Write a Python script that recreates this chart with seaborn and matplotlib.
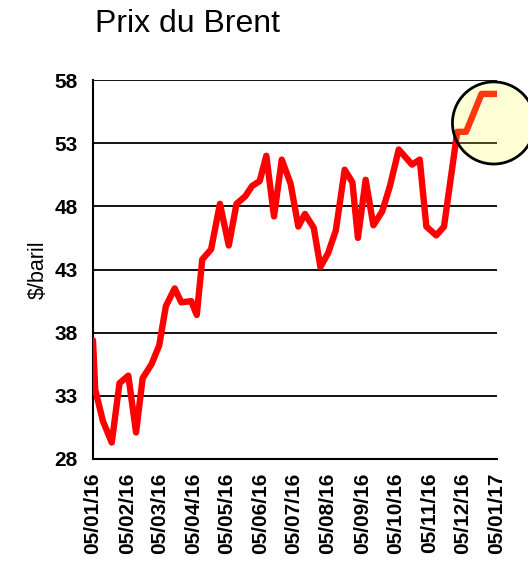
import pandas as pd
import numpy as np
import matplotlib
matplotlib.use("Agg")
import matplotlib.pyplot as plt
import matplotlib.dates as mdates
from matplotlib.patches import Ellipse
import seaborn as sns

# Brent price
dates = [
    "2016-01-05", "2016-01-07", "2016-01-14", "2016-01-22", "2016-01-29",
    "2016-02-06", "2016-02-13", "2016-02-19", "2016-02-27", "2016-03-05",
    "2016-03-11", "2016-03-19", "2016-03-25", "2016-04-03", "2016-04-08",
    "2016-04-13", "2016-04-21", "2016-04-29", "2016-05-07", "2016-05-14",
    "2016-05-22", "2016-05-28", "2016-06-04", "2016-06-10", "2016-06-17",
    "2016-06-24", "2016-07-02", "2016-07-09", "2016-07-15", "2016-07-23",
    "2016-07-29", "2016-08-05", "2016-08-12", "2016-08-20", "2016-08-27",
    "2016-09-01", "2016-09-08", "2016-09-15", "2016-09-23", "2016-09-30",
    "2016-10-08", "2016-10-20", "2016-10-27", "2016-11-02", "2016-11-11",
    "2016-11-18", "2016-11-30", "2016-12-08", "2016-12-22", "2017-01-05",
]
prices = [
    37.4, 33.5, 31.0, 29.3, 34.0,
    34.6, 30.1, 34.4, 35.5, 37.0,
    40.1, 41.5, 40.4, 40.5, 39.4,
    43.8, 44.6, 48.2, 44.9, 48.2,
    48.8, 49.6, 50.0, 52.0, 47.2,
    51.7, 49.8, 46.4, 47.4, 46.3,
    43.2, 44.3, 46.1, 50.9, 49.9,
    45.5, 50.1, 46.5, 47.6, 49.6,
    52.5, 51.3, 51.7, 46.4, 45.7,
    46.4, 53.9, 53.9, 56.9, 56.9,
]
y_ticks = [28, 33, 38, 43, 48, 53, 58]
x_start, x_end = "2016-01-05", "2017-01-05"
title = "Prix du Brent"
y_label = "$/baril"

# highlight circle (centre date, centre price, width in days, height in $)
circle_center = ("2017-01-02", 54.6)
circle_size = (74.7, 6.5)

df = pd.DataFrame({"date": pd.to_datetime(dates), "price": prices})

sns.set_theme(style="white")
plt.rcParams["font.family"] = ["Liberation Sans", "DejaVu Sans"]

fig = plt.figure(figsize=(5.28, 5.66), dpi=100)
ax = fig.add_axes([93 / 528, 1 - 459 / 566, 404 / 528, 379 / 566])

sns.lineplot(data=df, x="date", y="price", color="#FF0000", linewidth=4.6, ax=ax, zorder=3)

ax.set_xlim(pd.Timestamp(x_start), pd.Timestamp(x_end))
ax.set_ylim(y_ticks[0], y_ticks[-1])
ax.set_yticks(y_ticks)
ax.set_xticks(pd.date_range(x_start, x_end, freq=pd.DateOffset(months=1)))
ax.xaxis.set_major_formatter(mdates.DateFormatter("%d/%m/%y"))

ax.grid(axis="y", color="black", linewidth=1.3)
ax.grid(axis="x", visible=False)
for s in ["top", "right"]:
    ax.spines[s].set_visible(False)
for s in ["left", "bottom"]:
    ax.spines[s].set_color("black")
    ax.spines[s].set_linewidth(1.5)

ax.tick_params(axis="both", direction="out", length=4, width=1.5, color="black",
               labelcolor="black", labelsize=15)
ax.tick_params(axis="y", pad=7)
ax.tick_params(axis="x", labelrotation=90, pad=6)
for lbl in ax.get_xticklabels() + ax.get_yticklabels():
    lbl.set_fontweight("bold")

ax.set_xlabel("")
ax.set_ylabel(y_label, fontsize=15.5, color="black", labelpad=4)
ax.text(0.005, 1.127, title, transform=ax.transAxes, fontsize=23, color="black",
        ha="left", va="baseline")

cx = mdates.date2num(pd.Timestamp(circle_center[0]))
fill = Ellipse((cx, circle_center[1]), circle_size[0], circle_size[1],
               facecolor="#FFFF40", alpha=0.22, edgecolor="none", clip_on=False, zorder=5)
edge = Ellipse((cx, circle_center[1]), circle_size[0], circle_size[1],
               facecolor="none", edgecolor="black", linewidth=2, clip_on=False, zorder=6)
ax.add_patch(fill)
ax.add_patch(edge)

fig.savefig("out.png", dpi=100)
